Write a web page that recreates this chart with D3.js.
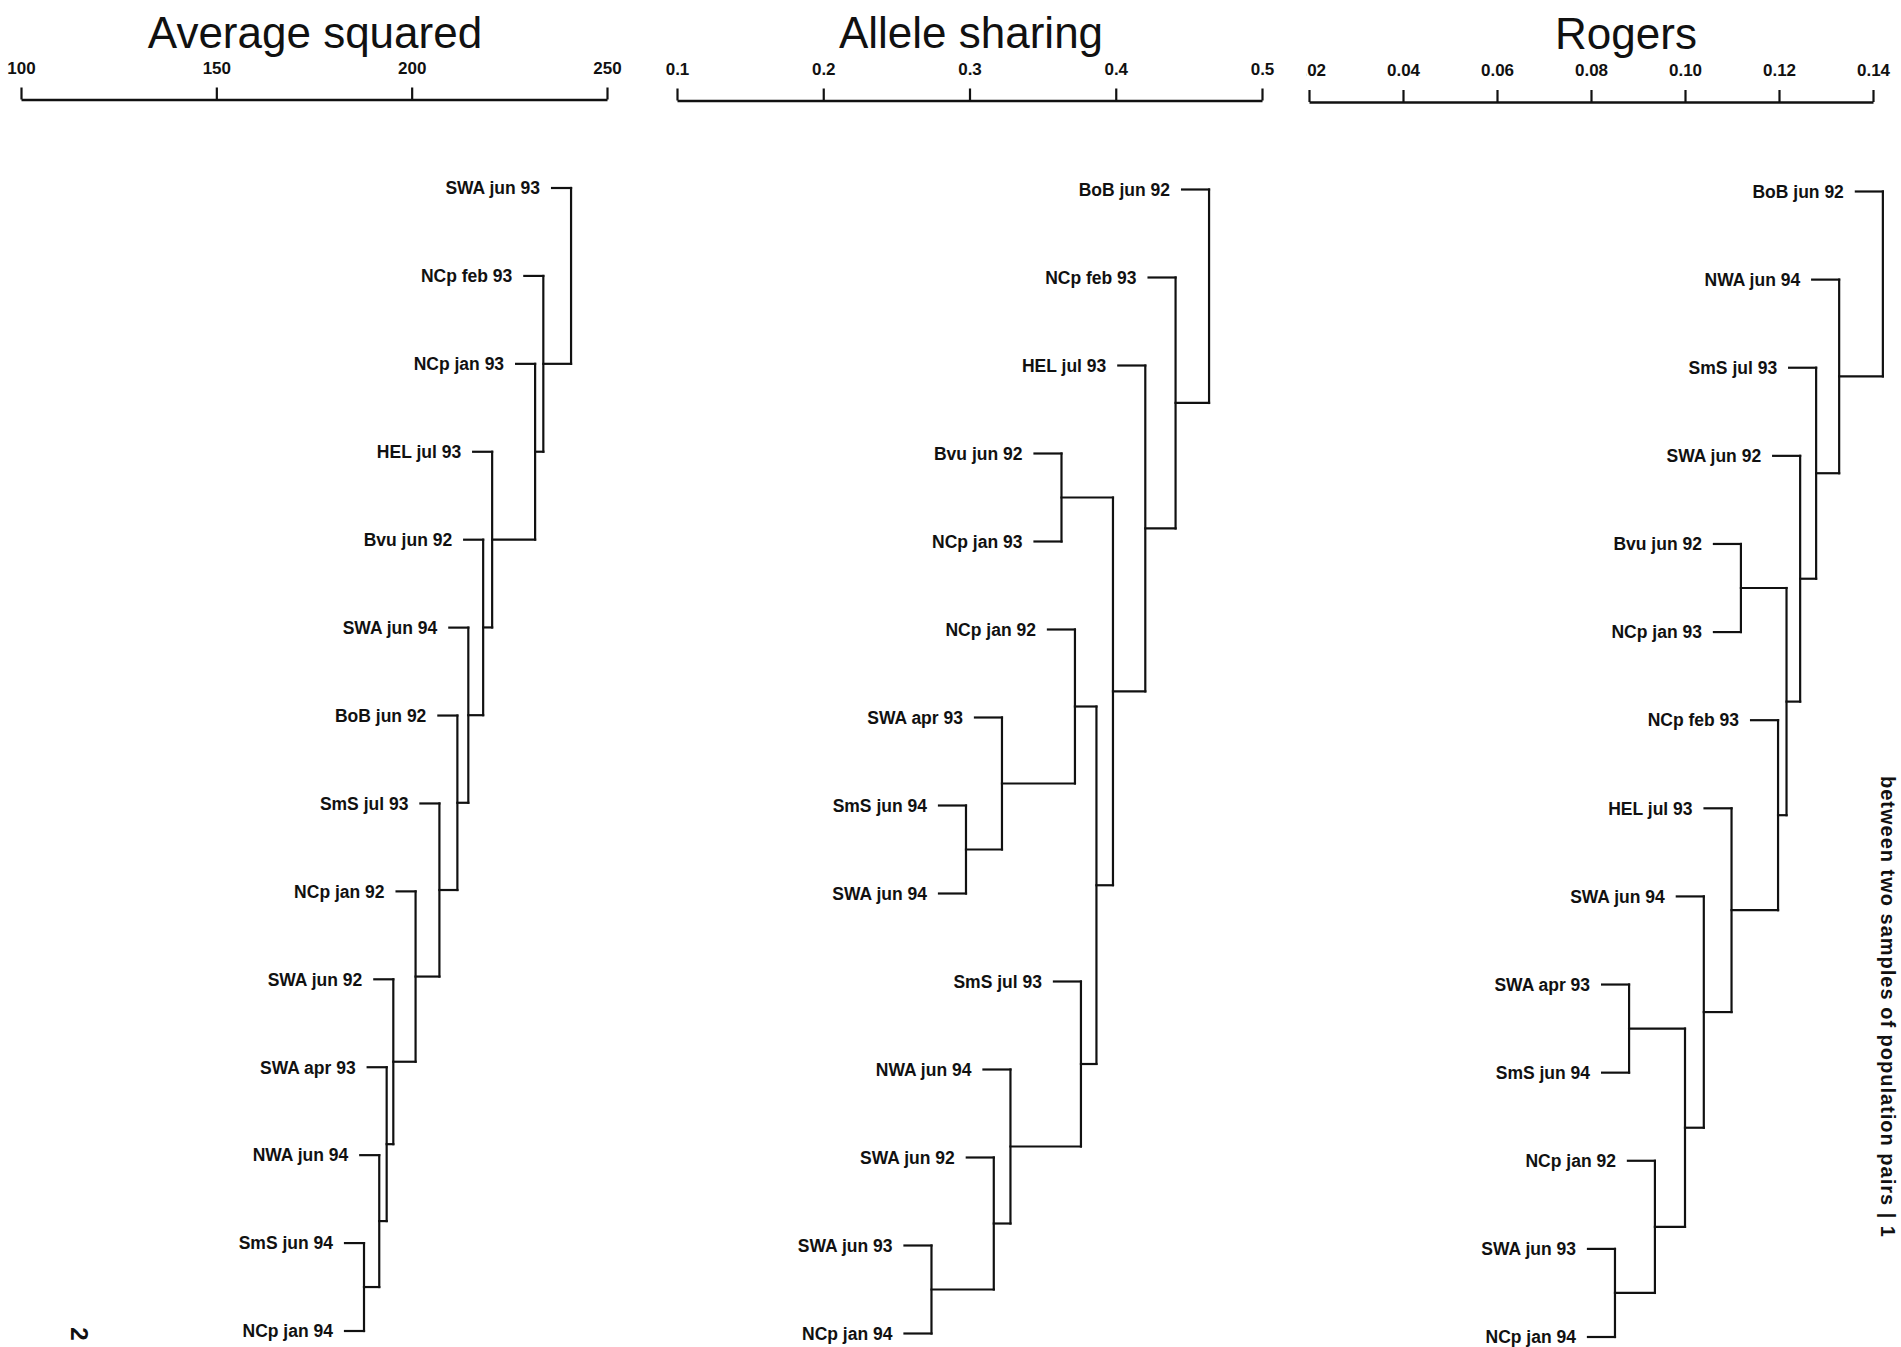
<!DOCTYPE html>
<html>
<head>
<meta charset="utf-8">
<script src="https://cdn.jsdelivr.net/npm/d3@7"></script>
<style>
  html, body { margin: 0; padding: 0; background: #fff; }
  svg { display: block; }
  text { font-family: "Liberation Sans", Arial, Helvetica, sans-serif; fill: #111; }
</style>
</head>
<body>
<svg id="chart" width="1901" height="1347"></svg>
<script>
// ---- Average squared distance ----
const avgSquaredLeaves = ["SWA jun 93", "NCp feb 93", "NCp jan 93", "HEL jul 93", "Bvu jun 92",
  "SWA jun 94", "BoB jun 92", "SmS jul 93", "NCp jan 92", "SWA jun 92", "SWA apr 93",
  "NWA jun 94", "SmS jun 94", "NCp jan 94"];
// [upper child, lower child, joining distance]; numbers refer to earlier merges
const avgSquaredMerges = [
  ["SmS jun 94", "NCp jan 94", 187.8],
  ["NWA jun 94", 0, 191.7],
  ["SWA apr 93", 1, 193.6],
  ["SWA jun 92", 2, 195.3],
  ["NCp jan 92", 3, 201.0],
  ["SmS jul 93", 4, 207.1],
  ["BoB jun 92", 5, 211.7],
  ["SWA jun 94", 6, 214.5],
  ["Bvu jun 92", 7, 218.3],
  ["HEL jul 93", 8, 220.6],
  ["NCp jan 93", 9, 231.6],
  ["NCp feb 93", 10, 233.7],
  ["SWA jun 93", 11, 240.8]
];
const avgSquaredTicks = [100, 150, 200, 250];

// ---- Allele sharing distance ----
const alleleLeaves = ["BoB jun 92", "NCp feb 93", "HEL jul 93", "Bvu jun 92", "NCp jan 93",
  "NCp jan 92", "SWA apr 93", "SmS jun 94", "SWA jun 94", "SmS jul 93", "NWA jun 94",
  "SWA jun 92", "SWA jun 93", "NCp jan 94"];
const alleleMerges = [
  ["SWA jun 93", "NCp jan 94", 0.274],
  ["SWA jun 92", 0, 0.3166],
  ["NWA jun 94", 1, 0.328],
  ["SmS jul 93", 2, 0.3762],
  ["SmS jun 94", "SWA jun 94", 0.2976],
  ["SWA apr 93", 4, 0.3222],
  ["NCp jan 92", 5, 0.3721],
  [6, 3, 0.3868],
  ["Bvu jun 92", "NCp jan 93", 0.3629],
  [8, 7, 0.3981],
  ["HEL jul 93", 9, 0.4202],
  ["NCp feb 93", 10, 0.4409],
  ["BoB jun 92", 11, 0.4638]
];
const alleleTicks = [0.1, 0.2, 0.3, 0.4, 0.5];

// ---- Rogers distance ----
const rogersLeaves = ["BoB jun 92", "NWA jun 94", "SmS jul 93", "SWA jun 92", "Bvu jun 92",
  "NCp jan 93", "NCp feb 93", "HEL jul 93", "SWA jun 94", "SWA apr 93", "SmS jun 94",
  "NCp jan 92", "SWA jun 93", "NCp jan 94"];
const rogersMerges = [
  ["SWA jun 93", "NCp jan 94", 0.0851],
  ["NCp jan 92", 0, 0.0936],
  ["SWA apr 93", "SmS jun 94", 0.0881],
  [2, 1, 0.1000],
  ["SWA jun 94", 3, 0.1040],
  ["HEL jul 93", 4, 0.1099],
  ["NCp feb 93", 5, 0.1198],
  ["Bvu jun 92", "NCp jan 93", 0.1119],
  [7, 6, 0.1216],
  ["SWA jun 92", 8, 0.1245],
  ["SmS jul 93", 9, 0.1279],
  ["NWA jun 94", 10, 0.1328],
  ["BoB jun 92", 11, 0.1421]
];
const rogersTicks = [0.02, 0.04, 0.06, 0.08, 0.10, 0.12, 0.14];

const svg = d3.select("#chart");
svg.append("rect").attr("width", 1901).attr("height", 1347).attr("fill", "#fff");

const defs = svg.append("defs");
defs.append("clipPath").attr("id", "rogersClip")
  .append("rect").attr("x", 1306.5).attr("y", 0).attr("width", 600).attr("height", 1347);

const panels = [
  { title: "Average squared", leaves: avgSquaredLeaves, merges: avgSquaredMerges, ticks: avgSquaredTicks,
    fmt: d3.format("d"), xr: [21, 607], axisY: 99.5, yr: [188, 1331], stub: 19, titleX: 315, titleY: 48 },
  { title: "Allele sharing", leaves: alleleLeaves, merges: alleleMerges, ticks: alleleTicks,
    fmt: d3.format(".1f"), xr: [677, 1262], axisY: 100.5, yr: [189.5, 1333.5], stub: 27, titleX: 971, titleY: 48 },
  { title: "Rogers", leaves: rogersLeaves, merges: rogersMerges, ticks: rogersTicks,
    fmt: d3.format(".2f"), xr: [1309, 1873], axisY: 102, yr: [191.5, 1337], stub: 27, titleX: 1626, titleY: 49,
    clip: "url(#rogersClip)" }
];

function buildTree(merges) {
  const nodes = [];
  merges.forEach(([a, b, h]) => {
    const kid = c => (typeof c === "string") ? { name: c } : nodes[c];
    nodes.push({ height: h, children: [kid(a), kid(b)] });
  });
  return d3.hierarchy(nodes[nodes.length - 1]);
}

panels.forEach(p => {
  const g = svg.append("g");
  if (p.clip) g.attr("clip-path", p.clip);

  const x = d3.scaleLinear().domain([p.ticks[0], p.ticks[p.ticks.length - 1]]).range(p.xr);
  const y = d3.scalePoint().domain(p.leaves).range(p.yr);

  // title
  svg.append("text")
    .attr("x", p.titleX).attr("y", p.titleY)
    .attr("text-anchor", "middle")
    .attr("font-size", 44)
    .text(p.title);

  // distance axis along the top
  const axis = g.append("g")
    .attr("transform", `translate(0,${p.axisY})`)
    .call(d3.axisTop(x).tickValues(p.ticks).tickSize(12).tickSizeOuter(0)
      .tickPadding(14).tickFormat(p.fmt));
  axis.attr("font-family", null).attr("font-size", null);
  axis.select(".domain").attr("stroke", "#111").attr("stroke-width", 2.4);
  axis.selectAll(".tick line").attr("stroke", "#111").attr("stroke-width", 2.2);
  axis.selectAll(".tick text").attr("font-size", 17).attr("font-weight", "bold").attr("fill", "#111");

  // tree: leaf rows from the point scale, internal nodes midway between their children
  const root = buildTree(p.merges);
  root.eachAfter(n => {
    if (!n.children) n.yy = y(n.data.name);
    else n.yy = (n.children[0].yy + n.children[1].yy) / 2;
  });

  const lines = g.append("g")
    .attr("stroke", "#111").attr("stroke-width", 2.2)
    .attr("stroke-linecap", "square").attr("fill", "none");

  root.each(n => {
    if (!n.children) return;
    const nx = x(n.data.height);
    lines.append("line")
      .attr("x1", nx).attr("x2", nx)
      .attr("y1", n.children[0].yy).attr("y2", n.children[1].yy);
    n.children.forEach(c => {
      const cx = c.children ? x(c.data.height) : nx - p.stub;
      lines.append("line")
        .attr("x1", cx).attr("x2", nx)
        .attr("y1", c.yy).attr("y2", c.yy);
      if (!c.children) {
        g.append("text")
          .attr("x", cx - 12).attr("y", c.yy)
          .attr("dy", "0.36em")
          .attr("text-anchor", "end")
          .attr("font-size", 17.5)
          .attr("font-weight", "bold")
          .text(c.data.name);
      }
    });
  });
});

// page furniture: folio and the running caption along the right edge
svg.append("text")
  .attr("transform", "translate(80,1334) rotate(90)")
  .attr("text-anchor", "middle")
  .attr("dy", "0.36em")
  .attr("font-size", 24).attr("font-weight", "bold")
  .text("2");

svg.append("text")
  .attr("transform", "translate(1881,776) rotate(90)")
  .attr("font-size", 20)
  .attr("font-weight", "bold")
  .attr("letter-spacing", 1)
  .text("between two samples of population pairs   |  1");
</script>
</body>
</html>
